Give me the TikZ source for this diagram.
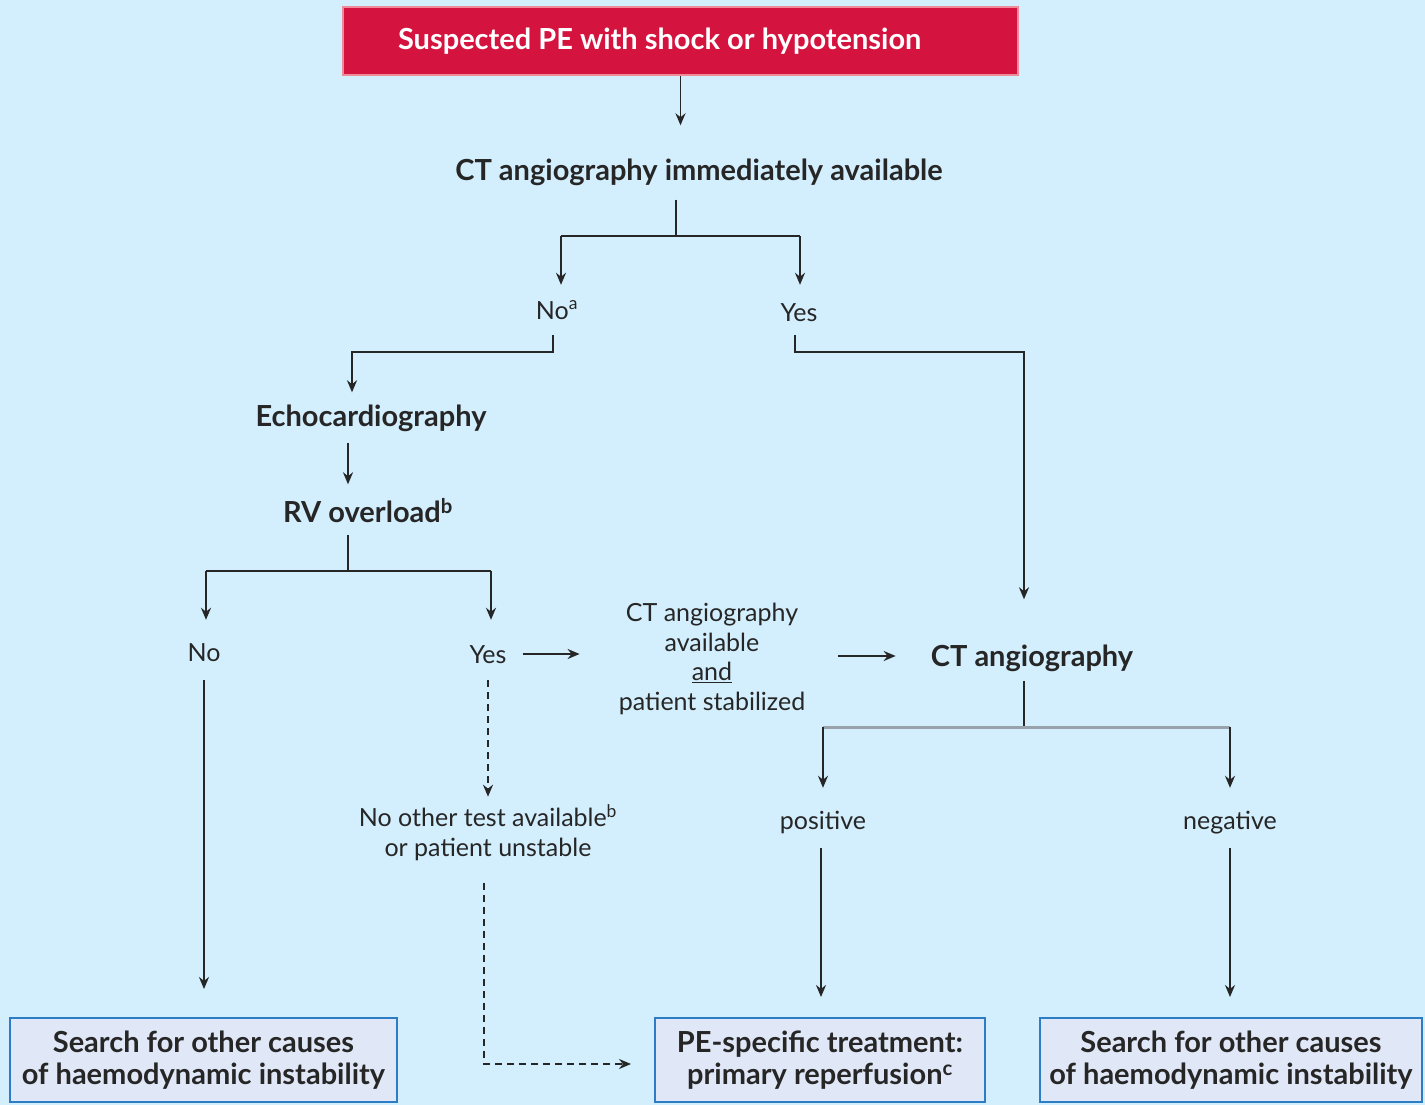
\documentclass[tikz,border=0pt]{standalone}
\usepackage{fontspec}
\setmainfont{Lato}
\usetikzlibrary{arrows.meta}
\definecolor{bg}{HTML}{D3EEFC}
\definecolor{redbox}{HTML}{D5133F}
\definecolor{redborder}{HTML}{EE8C9C}
\definecolor{boxfill}{HTML}{E0E7F6}
\definecolor{boxborder}{HTML}{2C7CC6}
\definecolor{ink}{HTML}{262626}
\definecolor{grayline}{HTML}{9AA3AC}
\begin{document}
\begin{tikzpicture}[x=1pt,y=-1pt,
  txt/.style={inner sep=0pt, text=ink, font=\fontsize{25}{30}\selectfont, align=center},
  one/.style={text height=21pt, text depth=3pt},
  bone/.style={text height=24pt, text depth=3pt},
  btxt/.style={txt, font=\fontsize{29}{33}\selectfont\bfseries},
  conn/.style={draw=ink, line width=1.7pt},
  arr/.style={conn, -{Stealth[length=12pt,width=10pt]}},
  darr/.style={arr, dash pattern=on 7pt off 5pt},
  endbox/.style={draw=boxborder, line width=2pt, fill=boxfill, minimum height=84pt, inner sep=0pt, text=ink, font=\fontsize{29}{32}\selectfont\bfseries, align=center},
  grayconn/.style={draw=grayline, line width=3pt}
]
\useasboundingbox (0,0) rectangle (1425,1105);
\fill[bg] (0,0) rectangle (1425,1105);

% nodes
\node[draw=redborder, line width=2pt, fill=redbox, minimum height=68pt, inner sep=0pt, text=white, font=\fontsize{29}{33}\selectfont\bfseries] (top) at (680.5,41)
  {\makebox[675pt][l]{\hspace{55pt}Suspected PE with shock or hypotension}};
\node[btxt, bone] (ctq) at (699,170) {CT angiography immediately available};
\node[txt, one] (no1) at (557,310) {No\textsuperscript{a}};
\node[txt, one] (yes1) at (799,312) {Yes};
\node[btxt, bone] (echo) at (371,416) {Echocardiography};
\node[btxt, bone] (rv) at (368,512) {RV overload\textsuperscript{b}};
\node[txt, one] (no2) at (204,652) {No};
\node[txt, one] (yes2) at (488,654) {Yes};
\node[txt, font=\fontsize{25}{29.5}\selectfont] (ctavail) at (712,659) {CT angiography\\available\\\underline{and}\\patient stabilized};
\node[btxt, bone] (cta) at (1032,656) {CT angiography};
\node[txt, one] (pos) at (823,820) {positive};
\node[txt, one] (neg) at (1230,820) {negative};
\node[txt] (other) at (488,833) {No other test available\textsuperscript{b}\\or patient unstable};
\node[endbox, minimum width=387pt] (box1) at (203.5,1060) {Search for other causes\\of haemodynamic instability};
\node[endbox, minimum width=330pt] (box2) at (820,1060) {PE-specific treatment:\\primary reperfusion\textsuperscript{c}};
\node[endbox, minimum width=382pt] (box3) at (1231,1060) {Search for other causes\\of haemodynamic instability};

% junction coordinates
\coordinate (j1) at (676,236);
\coordinate (j1l) at (561,236);
\coordinate (j1r) at (800,236);
\coordinate (j2) at (553,352);
\coordinate (j2l) at (352,352);
\coordinate (j3) at (795,352);
\coordinate (j3r) at (1024,352);
\coordinate (j4) at (348,571);
\coordinate (j4l) at (206,571);
\coordinate (j4r) at (491,571);
\coordinate (j5) at (1024,727);
\coordinate (j5l) at (823,727);
\coordinate (j5r) at (1230,727);
\coordinate (j6) at (484,1064);

% connectors
\draw[arr, shorten >=31pt] (top.south) -- (top.south |- ctq.north);
\draw[conn, shorten <=16pt] (ctq.south -| j1) -- (j1);
\draw[conn] (j1l) -- (j1r);
\draw[arr, shorten >=13pt] (j1l) -- (j1l |- no1.north);
\draw[arr, shorten >=15pt] (j1r) -- (j1r |- yes1.north);
\draw[arr, shorten <=13pt, shorten >=10pt] (no1.south -| j2) -- (j2) -- (j2l) -- (j2l |- echo.north);
\draw[arr, shorten <=11pt, shorten >=43pt] (yes1.south -| j3) -- (j3) -- (j3r) -- (j3r |- cta.north);
\draw[arr, shorten <=13pt, shorten >=14pt] (echo.south -| j4) -- (j4 |- rv.north);
\draw[conn, shorten <=9pt] (rv.south -| j4) -- (j4);
\draw[conn] (j4l) -- (j4r);
\draw[arr, shorten >=20pt] (j4l) -- (j4l |- no2.north);
\draw[arr, shorten >=22pt] (j4r) -- (j4r |- yes2.north);
\draw[arr, shorten <=16pt, shorten >=39pt] (yes2.east) -- (yes2.east -| ctavail.west);
\draw[arr, shorten <=33pt, shorten >=35pt] (ctavail.east |- cta.west) -- (cta.west);
\draw[conn, shorten <=11pt] (cta.south -| j5) -- (j5);
\draw[grayconn] (j5l) -- (j5r);
\draw[arr, shorten >=20pt] (j5l) -- (j5l |- pos.north);
\draw[arr, shorten >=20pt] (j5r) -- (j5r |- neg.north);
\draw[arr, shorten <=16pt, shorten >=28pt] (no2.south) -- (no2.south |- box1.north);
\draw[darr, shorten <=14pt, shorten >=8pt] (yes2.south) -- (yes2.south |- other.north);
\draw[darr, shorten <=22pt, shorten >=23pt] (other.south -| j6) -- (j6) -- (j6 -| box2.west);
\draw[arr, shorten <=16pt, shorten >=20pt] (pos.south -| 821,0) -- (box2.north -| 821,0);
\draw[arr, shorten <=16pt, shorten >=20pt] (neg.south) -- (neg.south |- box3.north);
\end{tikzpicture}
\end{document}
